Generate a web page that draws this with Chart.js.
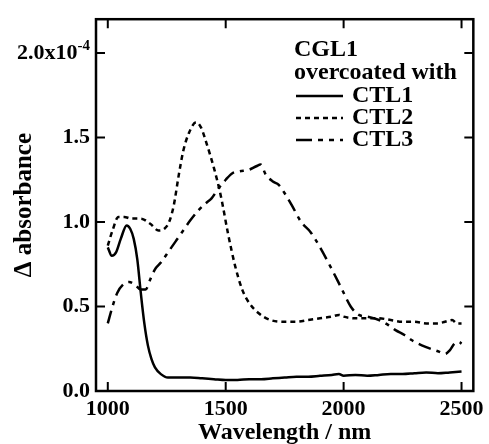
<!DOCTYPE html>
<html>
<head>
<meta charset="utf-8">
<script src="https://cdn.jsdelivr.net/npm/chart.js@4/dist/chart.umd.min.js"></script>
<style>
  html, body { margin: 0; padding: 0; background: #fff; }
  #wrap { width: 489px; height: 444px; }
</style>
</head>
<body>
<div id="wrap"><canvas id="c" width="489" height="444"></canvas></div>
<script>
// values in units of 1e-4 absorbance
const ctl1Wl = [1000, 1017, 1035, 1055, 1080, 1095, 1110, 1125, 1140, 1155, 1170, 1185, 1200, 1225, 1255, 1300, 1350, 1400, 1450, 1500, 1550, 1600, 1650, 1700, 1750, 1800, 1850, 1900, 1950, 1980, 2000, 2050, 2100, 2150, 2200, 2250, 2300, 2350, 2400, 2450, 2500];
const ctl1Abs = [0.85, 0.80, 0.82, 0.90, 0.98, 0.96, 0.90, 0.78, 0.58, 0.40, 0.27, 0.19, 0.14, 0.10, 0.08, 0.08, 0.08, 0.075, 0.07, 0.065, 0.065, 0.07, 0.07, 0.075, 0.08, 0.085, 0.085, 0.09, 0.095, 0.10, 0.09, 0.095, 0.09, 0.095, 0.10, 0.10, 0.105, 0.11, 0.105, 0.11, 0.115];

const ctl2Wl = [1000, 1020, 1045, 1070, 1100, 1140, 1180, 1215, 1240, 1260, 1280, 1300, 1320, 1345, 1375, 1395, 1420, 1450, 1480, 1510, 1540, 1570, 1600, 1640, 1690, 1750, 1800, 1850, 1900, 1950, 1980, 2000, 2050, 2100, 2150, 2200, 2250, 2300, 2350, 2400, 2430, 2460, 2480, 2500];
const ctl2Abs = [0.86, 0.95, 1.03, 1.03, 1.02, 1.02, 0.99, 0.95, 0.96, 1.00, 1.10, 1.27, 1.42, 1.53, 1.59, 1.56, 1.46, 1.32, 1.15, 0.93, 0.74, 0.60, 0.52, 0.46, 0.42, 0.41, 0.41, 0.42, 0.43, 0.44, 0.45, 0.44, 0.43, 0.43, 0.43, 0.42, 0.41, 0.41, 0.40, 0.40, 0.41, 0.42, 0.40, 0.40];

const ctl3Wl = [1000, 1020, 1040, 1065, 1090, 1115, 1140, 1160, 1180, 1200, 1225, 1260, 1290, 1320, 1350, 1385, 1415, 1440, 1470, 1500, 1530, 1560, 1600, 1630, 1648, 1670, 1700, 1725, 1750, 1780, 1820, 1860, 1900, 1950, 1990, 2030, 2065, 2100, 2150, 2190, 2220, 2260, 2290, 2350, 2400, 2430, 2450, 2470, 2490, 2500];
const ctl3Abs = [0.40, 0.50, 0.58, 0.63, 0.645, 0.63, 0.60, 0.60, 0.66, 0.72, 0.76, 0.83, 0.89, 0.95, 1.01, 1.07, 1.11, 1.14, 1.20, 1.25, 1.29, 1.30, 1.31, 1.33, 1.34, 1.28, 1.24, 1.22, 1.17, 1.10, 1.00, 0.94, 0.85, 0.72, 0.61, 0.50, 0.45, 0.44, 0.42, 0.39, 0.36, 0.33, 0.30, 0.26, 0.235, 0.22, 0.24, 0.28, 0.29, 0.28];

const xTicks = [1000, 1500, 2000, 2500];
const yTicks = [0, 0.5, 1.0, 1.5, 2.0];
const seriesNames = ['CTL1', 'CTL2', 'CTL3'];
const legendTitle = ['CGL1', 'overcoated with'];

const FONT = '"Liberation Serif", "Times New Roman", serif';
const dashes = [[], [5, 4], [13, 6, 4, 6]];

function pts(xs, ys) { return xs.map((x, i) => ({ x, y: ys[i] })); }

// frame, inward ticks, superscript label and the legend block
const decor = {
  id: 'decor',
  afterDraw(chart) {
    const { ctx, chartArea: a, scales } = chart;
    const xs = scales.x, ys = scales.y;
    ctx.save();
    ctx.strokeStyle = '#000';
    ctx.lineWidth = 2.5;
    ctx.strokeRect(a.left, a.top, a.right - a.left, a.bottom - a.top);
    ctx.lineWidth = 2;
    ctx.beginPath();
    xTicks.forEach(v => {
      const p = xs.getPixelForValue(v);
      ctx.moveTo(p, a.bottom); ctx.lineTo(p, a.bottom - 9);
      ctx.moveTo(p, a.top); ctx.lineTo(p, a.top + 9);
    });
    yTicks.forEach(v => {
      const p = ys.getPixelForValue(v);
      ctx.moveTo(a.left, p); ctx.lineTo(a.left + 9, p);
      ctx.moveTo(a.right, p); ctx.lineTo(a.right - 9, p);
    });
    ctx.stroke();

    // 2.0x10^-4
    const py = ys.getPixelForValue(2.0);
    ctx.fillStyle = '#000';
    ctx.textBaseline = 'middle';
    ctx.textAlign = 'right';
    ctx.font = 'bold 15px ' + FONT;
    const supW = ctx.measureText('-4').width;
    ctx.fillText('-4', a.left - 6, py - 7);
    ctx.font = 'bold 22px ' + FONT;
    ctx.fillText('2.0x10', a.left - 6 - supW, py);

    // legend
    ctx.font = 'bold 24px ' + FONT;
    ctx.textAlign = 'left';
    const lx = 294;
    ctx.fillText(legendTitle[0], lx, 50);
    ctx.fillText(legendTitle[1], lx, 73);
    chart.data.datasets.forEach((ds, i) => {
      const y = 96 + i * 22;
      ctx.save();
      ctx.lineWidth = 2.5;
      ctx.setLineDash(i === 2 ? [16, 6, 5, 6, 5, 6] : ds.borderDash);
      ctx.beginPath();
      ctx.moveTo(296, y); ctx.lineTo(343, y);
      ctx.stroke();
      ctx.restore();
      ctx.fillText(ds.label, 352, y);
    });
    ctx.restore();
  }
};

const data = [pts(ctl1Wl, ctl1Abs), pts(ctl2Wl, ctl2Abs), pts(ctl3Wl, ctl3Abs)];

new Chart(document.getElementById('c'), {
  type: 'line',
  data: {
    datasets: data.map((d, i) => ({
      label: seriesNames[i],
      data: d,
      borderColor: '#000',
      borderWidth: 2.5,
      borderDash: dashes[i],
      pointRadius: 0,
      cubicInterpolationMode: 'monotone',
      fill: false
    }))
  },
  options: {
    responsive: false,
    animation: false,
    events: [],
    layout: { padding: { left: 0, right: 15, top: 12, bottom: 0 } },
    plugins: { legend: { display: false }, tooltip: { enabled: false } },
    scales: {
      x: {
        type: 'linear',
        min: 950,
        max: 2550,
        afterBuildTicks: s => { s.ticks = xTicks.map(v => ({ value: v })); },
        afterFit: s => { s.height = 53; },
        grid: { display: false, drawTicks: false },
        border: { display: false },
        ticks: {
          color: '#000', padding: 5,
          font: { family: FONT, size: 22, weight: 'bold' },
          callback: v => String(v)
        },
        title: {
          display: true, text: 'Wavelength / nm', color: '#000',
          padding: { top: 0, bottom: -3 },
          font: { family: FONT, size: 24, weight: 'bold' }
        }
      },
      y: {
        min: 0,
        max: 2.2,
        afterBuildTicks: s => { s.ticks = yTicks.map(v => ({ value: v })); },
        afterFit: s => { s.width = 96; },
        grid: { display: false, drawTicks: false },
        border: { display: false },
        ticks: {
          color: '#000', padding: 6,
          font: { family: FONT, size: 22, weight: 'bold' },
          callback: v => (v === 2 ? '' : v.toFixed(1))
        },
        title: {
          display: true, text: 'Δ absorbance', color: '#000',
          padding: { top: 10, bottom: 0 },
          font: { family: FONT, size: 25, weight: 'bold' }
        }
      }
    }
  },
  plugins: [decor]
});
</script>
</body>
</html>
